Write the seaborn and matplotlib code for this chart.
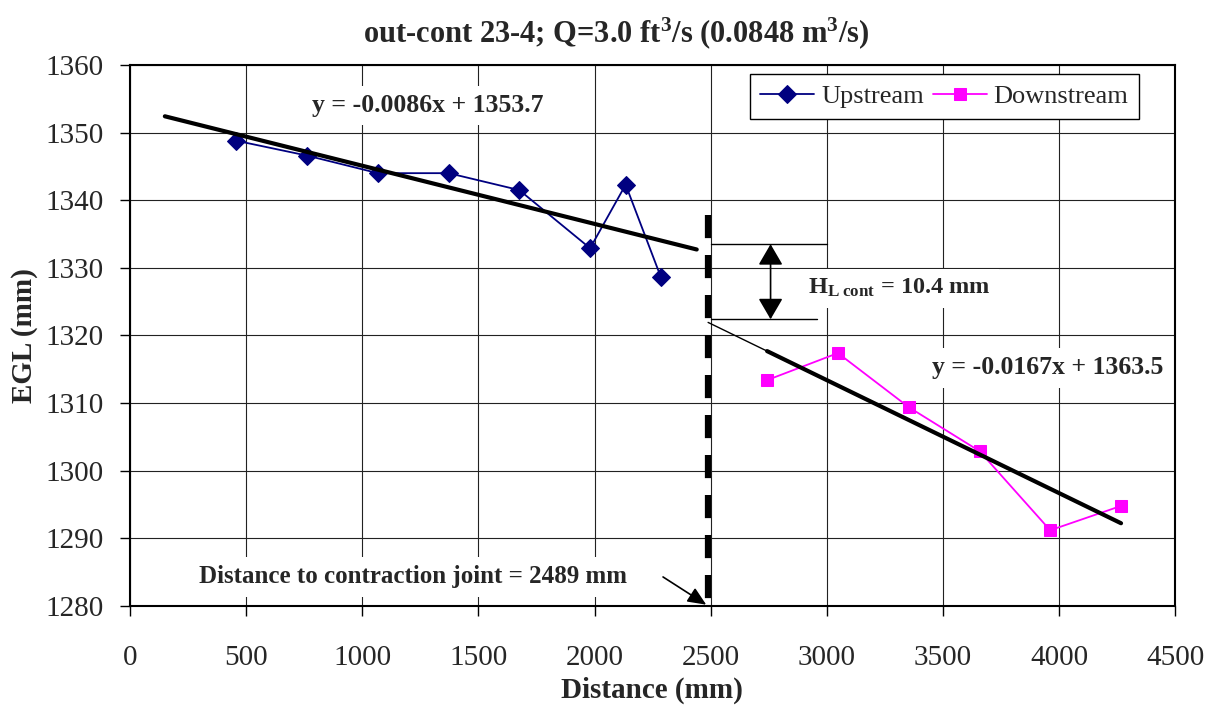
import numpy as np
import pandas as pd
import seaborn as sns
import matplotlib.pyplot as plt

# data
up_x = [457, 762, 1067, 1372, 1676, 1981, 2134, 2286]
up_y = [1348.8, 1346.6, 1344.0, 1344.0, 1341.5, 1332.9, 1342.3, 1328.6]
dn_x = [2743, 3048, 3353, 3658, 3962, 4267]
dn_y = [1313.4, 1317.4, 1309.4, 1302.9, 1291.2, 1294.8]

# trend lines (slope, intercept) and x ranges
up_fit = (-0.0086, 1353.7)
dn_fit = (-0.0167, 1363.5)
up_fit_range = [150, 2440]
dn_fit_range = [2743, 4267]

joint_x = 2489
hl_top = 1333.5
hl_bot = 1322.4

sns.set_theme(style="ticks")
plt.rcParams['font.family'] = ['Liberation Serif', 'DejaVu Serif']
plt.rcParams['mathtext.fontset'] = 'custom'
plt.rcParams['mathtext.rm'] = 'Liberation Serif'
plt.rcParams['mathtext.it'] = 'Liberation Serif:italic'
plt.rcParams['mathtext.bf'] = 'Liberation Serif:bold'

fig, ax = plt.subplots(figsize=(12.14, 7.06), dpi=100)
fig.subplots_adjust(left=0.1071, right=0.968, top=0.908, bottom=0.1416)

df_up = pd.DataFrame({'x': up_x, 'y': up_y})
df_dn = pd.DataFrame({'x': dn_x, 'y': dn_y})

sns.lineplot(data=df_up, x='x', y='y', sort=False, marker='D', markersize=9,
             color='#000080', markeredgecolor='#000080', lw=1.3, label='Upstream', ax=ax, zorder=4)
sns.lineplot(data=df_dn, x='x', y='y', sort=False, marker='s', markersize=9,
             color='#FF00FF', markeredgecolor='#FF00FF', lw=1.3, label='Downstream', ax=ax, zorder=4)

# trend lines
xu = np.array(up_fit_range)
ax.plot(xu, up_fit[0] * xu + up_fit[1], color='black', lw=3, zorder=5)
xd = np.array(dn_fit_range)
ax.plot(xd, dn_fit[0] * xd + dn_fit[1], color='black', lw=3, zorder=5)
xe = np.array([joint_x, dn_fit_range[0]])
ax.plot(xe, dn_fit[0] * xe + dn_fit[1], color='black', lw=1, zorder=5)

# contraction joint
ax.plot([joint_x, joint_x], [1337.8, 1280], color='black', lw=4.5,
        ls=(0, (3.7, 2.7)), zorder=5, solid_capstyle='butt', dash_capstyle='butt')

# head loss marker
ax.plot([2500, 3000], [hl_top, hl_top], color='black', lw=1, zorder=5)
ax.plot([2500, 2958], [hl_bot, hl_bot], color='black', lw=1, zorder=5)
ax.annotate('', xy=(2758, hl_top), xytext=(2758, hl_bot),
            arrowprops=dict(arrowstyle='<|-|>,head_length=0.6,head_width=0.35',
                            mutation_scale=21.6, color='black', lw=1.2,
                            shrinkA=0, shrinkB=0), zorder=5)

box = dict(facecolor='white', edgecolor='none', pad=6)
ax.text(2920, 1327, r'H$_\mathbf{L\ cont}$ = 10.4 mm', fontsize=17.5, fontweight='bold',
        ha='left', va='center', bbox=box, zorder=3)
ax.text(1280, 1354.0, 'y = -0.0086x + 1353.7', fontsize=18.5, fontweight='bold',
        ha='center', va='center', bbox=box, zorder=3)
ax.text(3953, 1315.2, 'y = -0.0167x + 1363.5', fontsize=18.5, fontweight='bold',
        ha='center', va='center', bbox=box, zorder=3)
ax.text(1220, 1284.3, 'Distance to contraction joint = 2489 mm', fontsize=18,
        fontweight='bold', ha='center', va='center', bbox=box, zorder=3)
ax.annotate('', xy=(joint_x - 8, 1280.2), xytext=(2295, 1284.3),
            arrowprops=dict(arrowstyle='-|>,head_length=0.8,head_width=0.35', mutation_scale=14,
                            color='black', lw=1.2, shrinkA=0, shrinkB=0), zorder=5)

ax.set_xlim(0, 4500)
ax.set_ylim(1280, 1360)
ax.set_xticks(np.arange(0, 4501, 500))
ax.set_yticks(np.arange(1280, 1361, 10))
ax.grid(True, color='#222222', lw=0.8)
ax.tick_params(axis='both', labelsize=21, direction='out', length=7, width=1, color='black')
ax.tick_params(axis='x', pad=21)
ax.tick_params(axis='y', pad=12)
for s in ax.spines.values():
    s.set_color('black')
    s.set_linewidth(1.5)

ax.set_xlabel('Distance (mm)', fontsize=21, fontweight='bold', va='center')
ax.set_ylabel('EGL (mm)', fontsize=21, fontweight='bold', va='center')
ax.xaxis.set_label_coords(0.499, -0.155)
ax.yaxis.set_label_coords(-0.1005, 0.5)

fig.suptitle(r'out-cont 23-4; Q=3.0 ft$^\mathbf{3}$/s (0.0848 m$^\mathbf{3}$/s)',
             x=0.508, y=0.953, va='center', fontsize=22, fontweight='bold')

leg = ax.legend(loc='upper right', bbox_to_anchor=(0.9655, 0.983), borderaxespad=0,
                ncol=2, fontsize=19, frameon=True, fancybox=False, framealpha=1,
                edgecolor='black', handlelength=2.05, handletextpad=0.25,
                columnspacing=0.35, borderpad=0.4)
leg.get_frame().set_linewidth(1)

fig.savefig('out.png', dpi=100)
